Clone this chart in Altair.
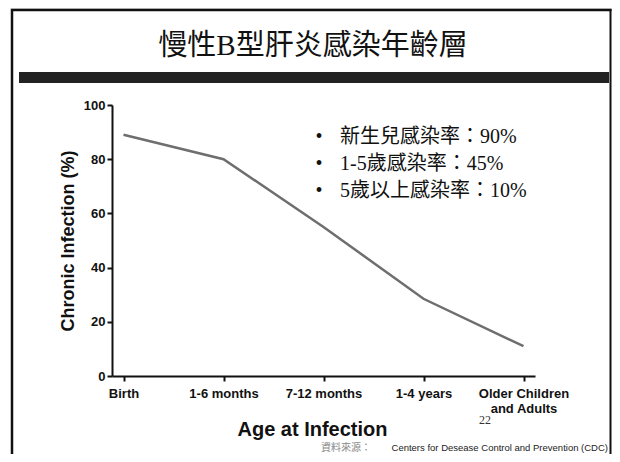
import altair as alt
import pandas as pd

# ---- data ----
ages = ["Birth", "1-6 months", "7-12 months", "1-4 years", "Older Children and Adults"]
chronic_pct = [89, 80, 55, 28.5, 11]
y_ticks = [0, 20, 40, 60, 80, 100]
slide_title = "慢性B型肝炎感染年齡層"
bullet_lines = ["新生兒感染率：90%", "1-5歲感染率：45%", "5歲以上感染率：10%"]
page_number = "22"
source_label = "資料來源："
source_text = "Centers for Desease Control and Prevention (CDC)"
x_title = "Age at Infection"
y_title = "Chronic Infection (%)"

# ---- layout (page pixel coordinates) ----
W, H = 423, 271
PX0, PY0 = 112, 105          # page position of plot origin
SVG_W, SVG_H = 604, 446


def px(x):
    return x - PX0


def py(y):
    return y - PY0


df = pd.DataFrame({"age": ages, "pct": chronic_pct})
one = pd.DataFrame({"k": [0]})

SANS = "Liberation Sans, Arial, Noto Sans CJK TC"
SERIF = "Liberation Serif, Noto Sans CJK TC"
CJK = "Noto Sans CJK TC"

line = alt.Chart(df).mark_line(color="#6e6e6e", strokeWidth=2.5).encode(
    x=alt.X(
        "age:N",
        sort=ages,
        scale=alt.Scale(type="point", padding=0.115),
        axis=alt.Axis(
            title=x_title,
            titleFontSize=20,
            titleFont=SANS,
            titleFontWeight="bold",
            titleColor="#111",
            titleX=200,
            titlePadding=4,
            labelAngle=0,
            labelFont=SANS,
            labelFontWeight="bold",
            labelFontSize=13,
            labelColor="#111",
            labelPadding=6,
            labelLineHeight=15,
            labelExpr="datum.label == 'Older Children and Adults' ? ['Older Children', 'and Adults'] : datum.label",
        ),
    ),
    y=alt.Y(
        "pct:Q",
        scale=alt.Scale(domain=[0, 100], nice=False),
        axis=alt.Axis(
            title=y_title,
            values=y_ticks,
            titleFontSize=18,
            titleFont=SANS,
            titleFontWeight="bold",
            titleColor="#111",
            titlePadding=6,
            labelFont=SANS,
            labelFontWeight="bold",
            labelFontSize=13,
            labelColor="#111",
            labelPadding=2,
        ),
    ),
)

layers = [line]

# slide frame
def rule(x, x2, y, y2, color, w):
    return alt.Chart(one).mark_rule(color=color, strokeWidth=w).encode(
        x=alt.value(px(x)), x2=alt.value(px(x2)), y=alt.value(py(y)), y2=alt.value(py(y2))
    )

RIGHT = 610.5
layers.append(rule(10, 612, 7.5, 7.5, "#888888", 1.5))
layers.append(rule(11, RIGHT + 1, 10, 10, "#111111", 2.5))
layers.append(rule(12, 12, 9, SVG_H + 8, "#111111", 2.5))
layers.append(rule(RIGHT, RIGHT, 9, SVG_H + 8, "#111111", 2))

# dark title bar
layers.append(
    alt.Chart(one).mark_rect(color="#222222").encode(
        x=alt.value(px(19)), x2=alt.value(px(609)), y=alt.value(py(72)), y2=alt.value(py(83))
    )
)

# slide title
layers.append(
    alt.Chart(one).mark_text(
        text=slide_title, font=SERIF, fontSize=29, color="#111", align="center", baseline="middle"
    ).encode(x=alt.value(px(313)), y=alt.value(py(46)))
)

# bullets
bullet_y = [137, 164, 191]
for t, yy in zip(bullet_lines, bullet_y):
    layers.append(
        alt.Chart(one).mark_text(
            text="•", font=SERIF, fontSize=20, color="#111", align="center", baseline="middle"
        ).encode(x=alt.value(px(319)), y=alt.value(py(yy)))
    )
    layers.append(
        alt.Chart(one).mark_text(
            text=t, font=SERIF, fontSize=20, color="#111", align="left", baseline="middle"
        ).encode(x=alt.value(px(340)), y=alt.value(py(yy)))
    )

# page number
layers.append(
    alt.Chart(one).mark_text(
        text=page_number, font=SERIF, fontSize=12, color="#333", align="center", baseline="middle"
    ).encode(x=alt.value(px(485)), y=alt.value(py(420)))
)

# source
layers.append(
    alt.Chart(one).mark_text(
        text=source_text, font=SANS, fontSize=9.5, color="#222", align="right", baseline="middle"
    ).encode(x=alt.value(px(608)), y=alt.value(py(448)))
)
layers.append(
    alt.Chart(one).mark_text(
        text=source_label, font=CJK, fontSize=10, color="#888", align="right", baseline="middle"
    ).encode(x=alt.value(px(371)), y=alt.value(py(448)))
)

chart = (
    alt.layer(*layers)
    .properties(
        width=W,
        height=H,
        autosize=alt.AutoSizeParams(type="none"),
        padding={"left": PX0 - 8, "top": PY0 - 8, "right": SVG_W - (PX0 - 8) - W, "bottom": SVG_H - (PY0 - 8) - H},
        background="white",
    )
    .configure_view(stroke=None)
    .configure_axis(
        grid=False,
        domainColor="#111",
        domainWidth=2,
        tickColor="#111",
        tickWidth=2,
        tickSize=5,
    )
)

chart.save("out.html", embed_options={"renderer": "svg", "actions": False})
